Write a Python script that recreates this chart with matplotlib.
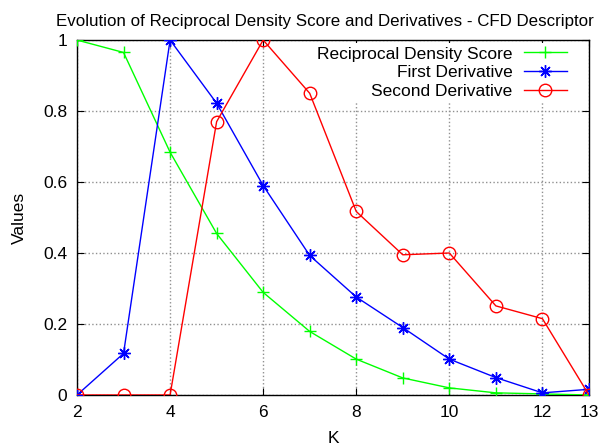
import matplotlib
matplotlib.use("Agg")
import matplotlib.pyplot as plt

plt.rcParams['font.family'] = ['Liberation Sans', 'DejaVu Sans']

k = [2, 3, 4, 5, 6, 7, 8, 9, 10, 11, 12, 13]
score = [1.0, 0.965, 0.684, 0.455, 0.289, 0.179, 0.101, 0.048, 0.02, 0.006, 0.003, 0.0]
first = [0.0, 0.117, 1.0, 0.822, 0.59, 0.393, 0.276, 0.19, 0.101, 0.049, 0.006, 0.016]
second = [0.0, 0.0, 0.0, 0.77, 1.0, 0.85, 0.517, 0.395, 0.4, 0.251, 0.215, 0.0]

xticks = [2, 4, 6, 8, 10, 12, 13]
yticks = [0, 0.2, 0.4, 0.6, 0.8, 1]
ylabels = ["0", "0.2", "0.4", "0.6", "0.8", "1"]

fs = 12.5
fig = plt.figure(figsize=(6.03, 4.45), dpi=100)
ax = fig.add_axes([0.1277, 0.1124, 0.849, 0.7976])

ax.plot(k, score, color='#00ff00', lw=1, marker='+', ms=9, mew=1, label="Reciprocal Density Score", zorder=3)
ax.plot(k, first, color='#0000ff', lw=1, marker=(8, 2, 0), ms=9, mew=1, label="First Derivative", zorder=3)
ax.plot(k, second, color='#ff0000', lw=1, marker='o', ms=9, mew=1, mfc='none', label="Second Derivative", zorder=3)

ax.set_xlim(2, 13)
ax.set_ylim(0, 1)
ax.set_xticks(xticks)
ax.set_yticks(yticks)
ax.set_yticklabels(ylabels)
ax.tick_params(direction='in', top=True, right=True, length=5, labelsize=fs, pad=7)
ax.grid(True, color='#909090', linestyle=':', linewidth=1)
ax.set_axisbelow(True)
for s in ax.spines.values():
    s.set_linewidth(1)

ax.set_xlabel("K", fontsize=fs, labelpad=8)
ax.set_ylabel("Values", fontsize=fs, labelpad=12)
ax.set_title("Evolution of Reciprocal Density Score and Derivatives - CFD Descriptor",
             fontsize=12.2, pad=10, x=0.485)

# legend sits over the grid but under the data lines, like gnuplot's key
leg = ax.legend(loc='upper right', markerfirst=False, frameon=True, fontsize=fs,
                handlelength=2.5, labelspacing=0.2, borderaxespad=0.0, handletextpad=0.63,
                borderpad=0.2, bbox_to_anchor=(0.964, 0.992))
leg.get_frame().set_edgecolor('none')
leg.get_frame().set_facecolor('white')
leg.get_frame().set_alpha(1)
leg.set_zorder(2)
for t in leg.get_texts():
    t.set_ha('right')
leg._legend_box.align = 'right'

fig.savefig("out.png", dpi=100)
